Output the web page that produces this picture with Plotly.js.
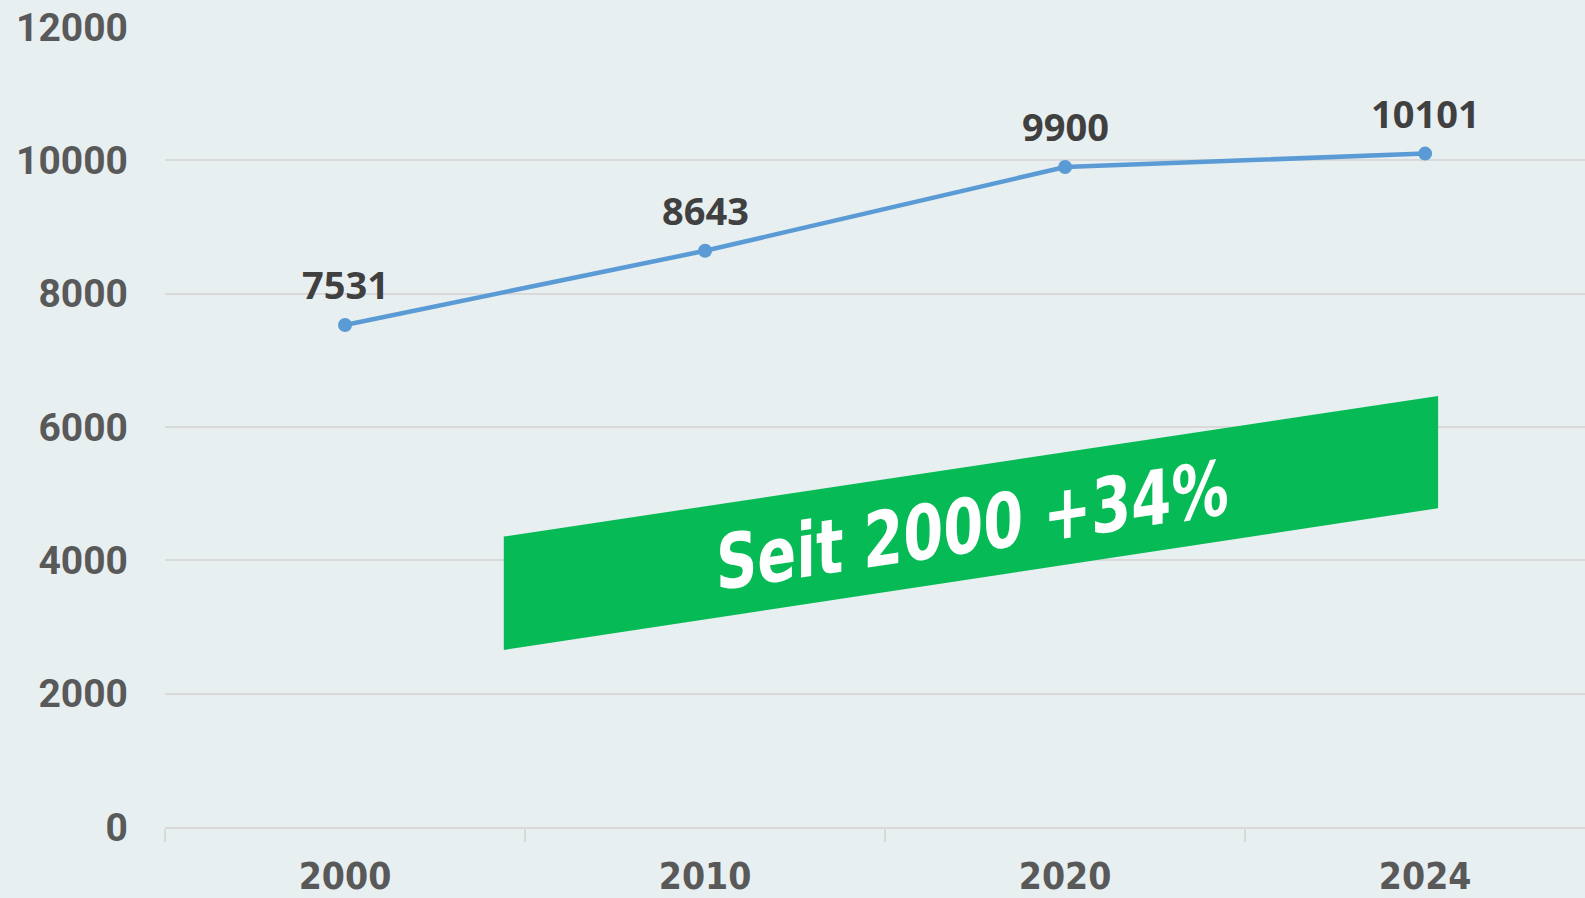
<!DOCTYPE html>
<html>
<head>
<meta charset="utf-8">
<script src="https://cdn.plot.ly/plotly-3.0.1.min.js"></script>
<style>
html,body{margin:0;padding:0;background:#e8eff1;}
#chart{width:1585px;height:898px;}
</style>
</head>
<body>
<div id="chart"></div>
<script>
const years = ['2000', '2010', '2020', '2024'];
const values = [7531, 8643, 9900, 10101];
const yTicks = [0, 2000, 4000, 6000, 8000, 10000, 12000];
const bannerText = 'Seit 2000 +34%';

const trace = {
  x: years,
  y: values,
  type: 'scatter',
  mode: 'lines+markers',
  cliponaxis: false,
  line: {color: '#5b9bd5', width: 4.5},
  marker: {color: '#5b9bd5', size: 14},
  hoverinfo: 'skip'
};

// category axis: annotation x uses the category's serial index
const labelAnnotations = years.map(function (yr, i) {
  return {
    xref: 'x', yref: 'y',
    x: i, y: values[i],
    text: String(values[i]),
    showarrow: false,
    xanchor: 'center', yanchor: 'middle',
    yshift: 41,
    font: {family: '"Open Sans", sans-serif', size: 38, color: '#404040', weight: 700}
  };
});

const layout = {
  width: 1585,
  height: 898,
  paper_bgcolor: '#e8eff1',
  plot_bgcolor: '#e8eff1',
  margin: {l: 165, r: 0, t: 27, b: 71},
  showlegend: false,
  xaxis: {
    type: 'category',
    range: [-0.5, 3.444],
    tickson: 'boundaries',
    ticks: 'outside',
    ticklen: 13,
    tickwidth: 2,
    tickcolor: '#d9d9d9',
    showline: true,
    linecolor: '#d9d9d9',
    linewidth: 2,
    showgrid: false,
    zeroline: false,
    ticklabelstandoff: 16,
    tickfont: {family: '"DejaVu Sans Condensed", "DejaVu Sans", sans-serif', size: 37, color: '#595959', weight: 700}
  },
  yaxis: {
    range: [0, 12000],
    tickvals: yTicks,
    ticktext: yTicks.map(String),
    showgrid: true,
    gridcolor: '#d9d9d9',
    gridwidth: 2,
    zeroline: false,
    showline: false,
    ticks: '',
    ticklabelstandoff: 36,
    tickfont: {family: 'Roboto, sans-serif', size: 39, color: '#595959', weight: 700}
  },
  shapes: [{
    type: 'path',
    xref: 'x', yref: 'y',
    path: 'M 0.441,2656 L 0.441,4356 L 3.036,6465 L 3.036,4781 Z',
    fillcolor: '#06bb55',
    line: {width: 0},
    layer: 'above'
  }],
  annotations: labelAnnotations.concat([{
    xref: 'x', yref: 'y',
    x: 1.743, y: 4517,
    text: bannerText,
    showarrow: false,
    font: {family: '"DejaVu Sans Condensed", "DejaVu Sans", sans-serif', size: 76, color: '#ffffff', weight: 700},
    xanchor: 'center', yanchor: 'middle'
  }])
};

Plotly.newPlot('chart', [trace], layout, {displayModeBar: false, staticPlot: true}).then(function () {
  const all = document.querySelectorAll('#chart .annotation');
  const g = all[all.length - 1];
  if (g) {
    const bb = g.getBBox();
    const cx = bb.x + bb.width / 2, cy = bb.y + bb.height / 2;
    const prev = g.getAttribute('transform') || '';
    g.setAttribute('transform', 'translate(' + cx + ',' + cy + ') skewY(-8.5) scale(0.84,1) translate(' + (-cx) + ',' + (-cy) + ') ' + prev);
  }
});
</script>
</body>
</html>
